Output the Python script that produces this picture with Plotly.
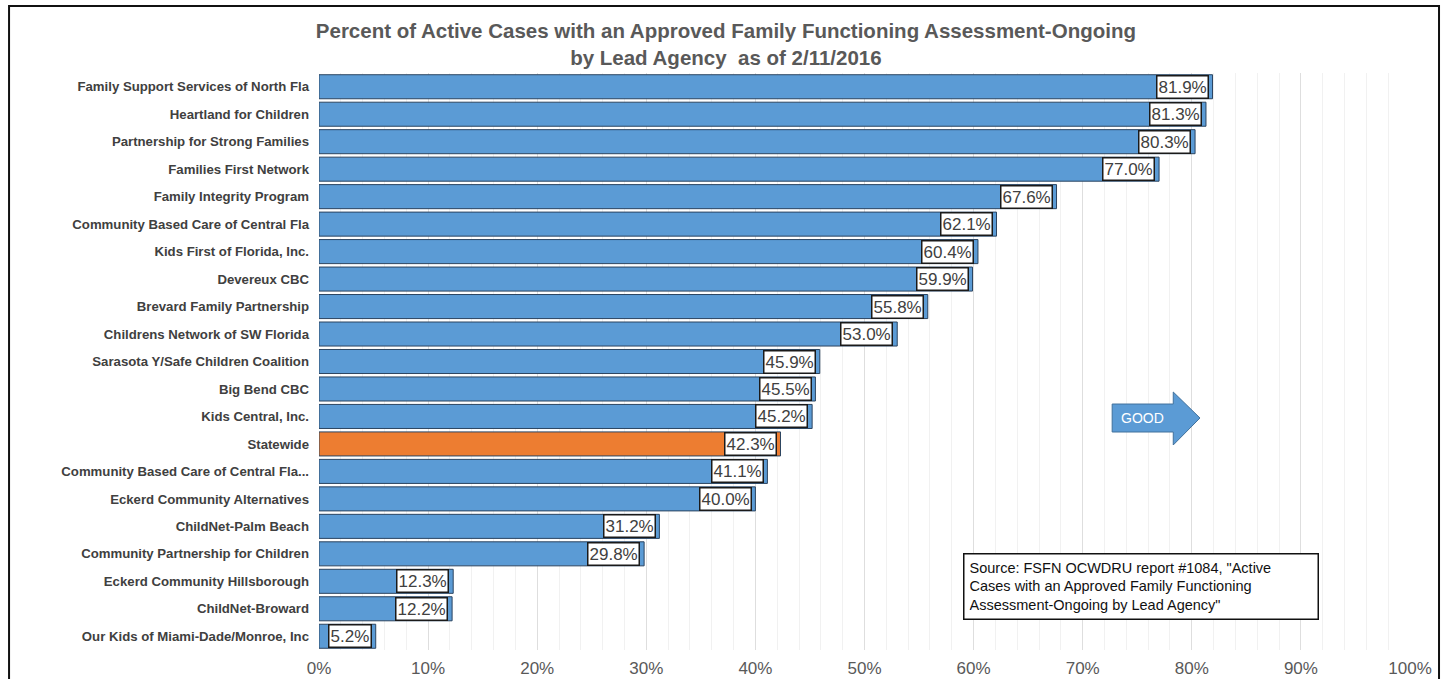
import plotly.graph_objects as go

agencies = [
    "Family Support Services of North Fla",
    "Heartland for Children",
    "Partnership for Strong Families",
    "Families First Network",
    "Family Integrity Program",
    "Community Based Care of Central Fla",
    "Kids First of Florida, Inc.",
    "Devereux CBC",
    "Brevard Family Partnership",
    "Childrens Network of SW Florida",
    "Sarasota Y/Safe Children Coalition",
    "Big Bend CBC",
    "Kids Central, Inc.",
    "Statewide",
    "Community Based Care of Central Fla...",
    "Eckerd Community Alternatives",
    "ChildNet-Palm Beach",
    "Community Partnership for Children",
    "Eckerd Community Hillsborough",
    "ChildNet-Broward",
    "Our Kids of Miami-Dade/Monroe, Inc",
]
percents = [81.9, 81.3, 80.3, 77.0, 67.6, 62.1, 60.4, 59.9, 55.8, 53.0,
            45.9, 45.5, 45.2, 42.3, 41.1, 40.0, 31.2, 29.8, 12.3, 12.2, 5.2]
x_ticks = [0, 10, 20, 30, 40, 50, 60, 70, 80, 90, 100]
x_tick_labels = [f"{t}%" for t in x_ticks]

BLUE = "#5B9BD5"
ORANGE = "#ED7D31"
FONT = "Liberation Sans, Arial, sans-serif"

colors = [ORANGE if a == "Statewide" else BLUE for a in agencies]

fig = go.Figure()
fig.add_trace(go.Bar(
    x=percents, y=agencies, orientation="h",
    marker=dict(color=colors, line=dict(color="#2b4460", width=1)),
    hoverinfo="x+y",
))

for a, v in zip(agencies, percents):
    fig.add_annotation(
        x=v - 0.35, y=a, xref="x", yref="y", xanchor="right", yanchor="middle",
        text=f"{v:.1f}%", showarrow=False,
        font=dict(family=FONT, size=17, color="#404040"),
        bgcolor="white", bordercolor="#1a1a1a", borderwidth=1.5, borderpad=1,
    )

# GOOD arrow
fig.add_shape(
    type="path", xref="x", yref="paper",
    path="M 72.7 0.4263 L 78.3 0.4263 L 78.3 0.4471 L 80.75 0.4021 L 78.3 0.3553 L 78.3 0.3778 L 72.7 0.3778 Z",
    fillcolor=BLUE, line=dict(color="#41719C", width=1), layer="above",
)
fig.add_annotation(
    x=75.5, y=0.4021, xref="x", yref="paper", text="GOOD", showarrow=False,
    font=dict(family=FONT, size=14, color="white"), xanchor="center", yanchor="middle",
)

# Source box
fig.add_annotation(
    x=0.590, y=0.168, xref="paper", yref="paper", xanchor="left", yanchor="top",
    text='Source: FSFN OCWDRU report #1084, "Active<br>Cases with an Approved Family Functioning<br>Assessment-Ongoing by Lead Agency"',
    align="left", showarrow=False, width=343,
    font=dict(family=FONT, size=14.5, color="#111111"),
    bgcolor="white", bordercolor="#111111", borderwidth=1.5, borderpad=5,
)

# Outer frame
fig.add_shape(
    type="rect", xref="paper", yref="paper",
    x0=-0.2841, x1=1.0266, y0=-0.1, y1=1.116,
    line=dict(color="#111111", width=2), fillcolor="rgba(0,0,0,0)", layer="above",
)

fig.update_layout(
    width=1446, height=679,
    margin=dict(l=319, r=36, t=73, b=29),
    paper_bgcolor="white", plot_bgcolor="white",
    bargap=0.125, showlegend=False,
    title=dict(
        text="Percent of Active Cases with an Approved Family Functioning Assessment-Ongoing<br>by Lead Agency  as of 2/11/2016",
        x=0.502, xanchor="center", y=0.944, yanchor="top",
        font=dict(family=FONT, size=20.5, color="#595959", weight="bold"),
    ),
    font=dict(family=FONT),
)
fig.update_xaxes(
    range=[0, 100], tickvals=x_ticks, ticktext=x_tick_labels,
    showgrid=True, gridcolor="#dedede", gridwidth=1,
    minor=dict(dtick=2, showgrid=True, gridcolor="#f1f1f1", gridwidth=1),
    zeroline=False, showline=False, automargin=False,
    tickfont=dict(family=FONT, size=17, color="#595959"),
    ticklabelstandoff=6,
)
fig.update_yaxes(
    autorange="reversed", showgrid=False, showline=False, automargin=False,
    tickfont=dict(family=FONT, size=13.2, color="#404040", weight="bold"),
    ticklabelstandoff=9,
)

fig.write_html(
    "out.html",
    config={"displayModeBar": False},
    post_script="document.body.style.margin='0px';document.body.style.overflow='hidden';",
)
